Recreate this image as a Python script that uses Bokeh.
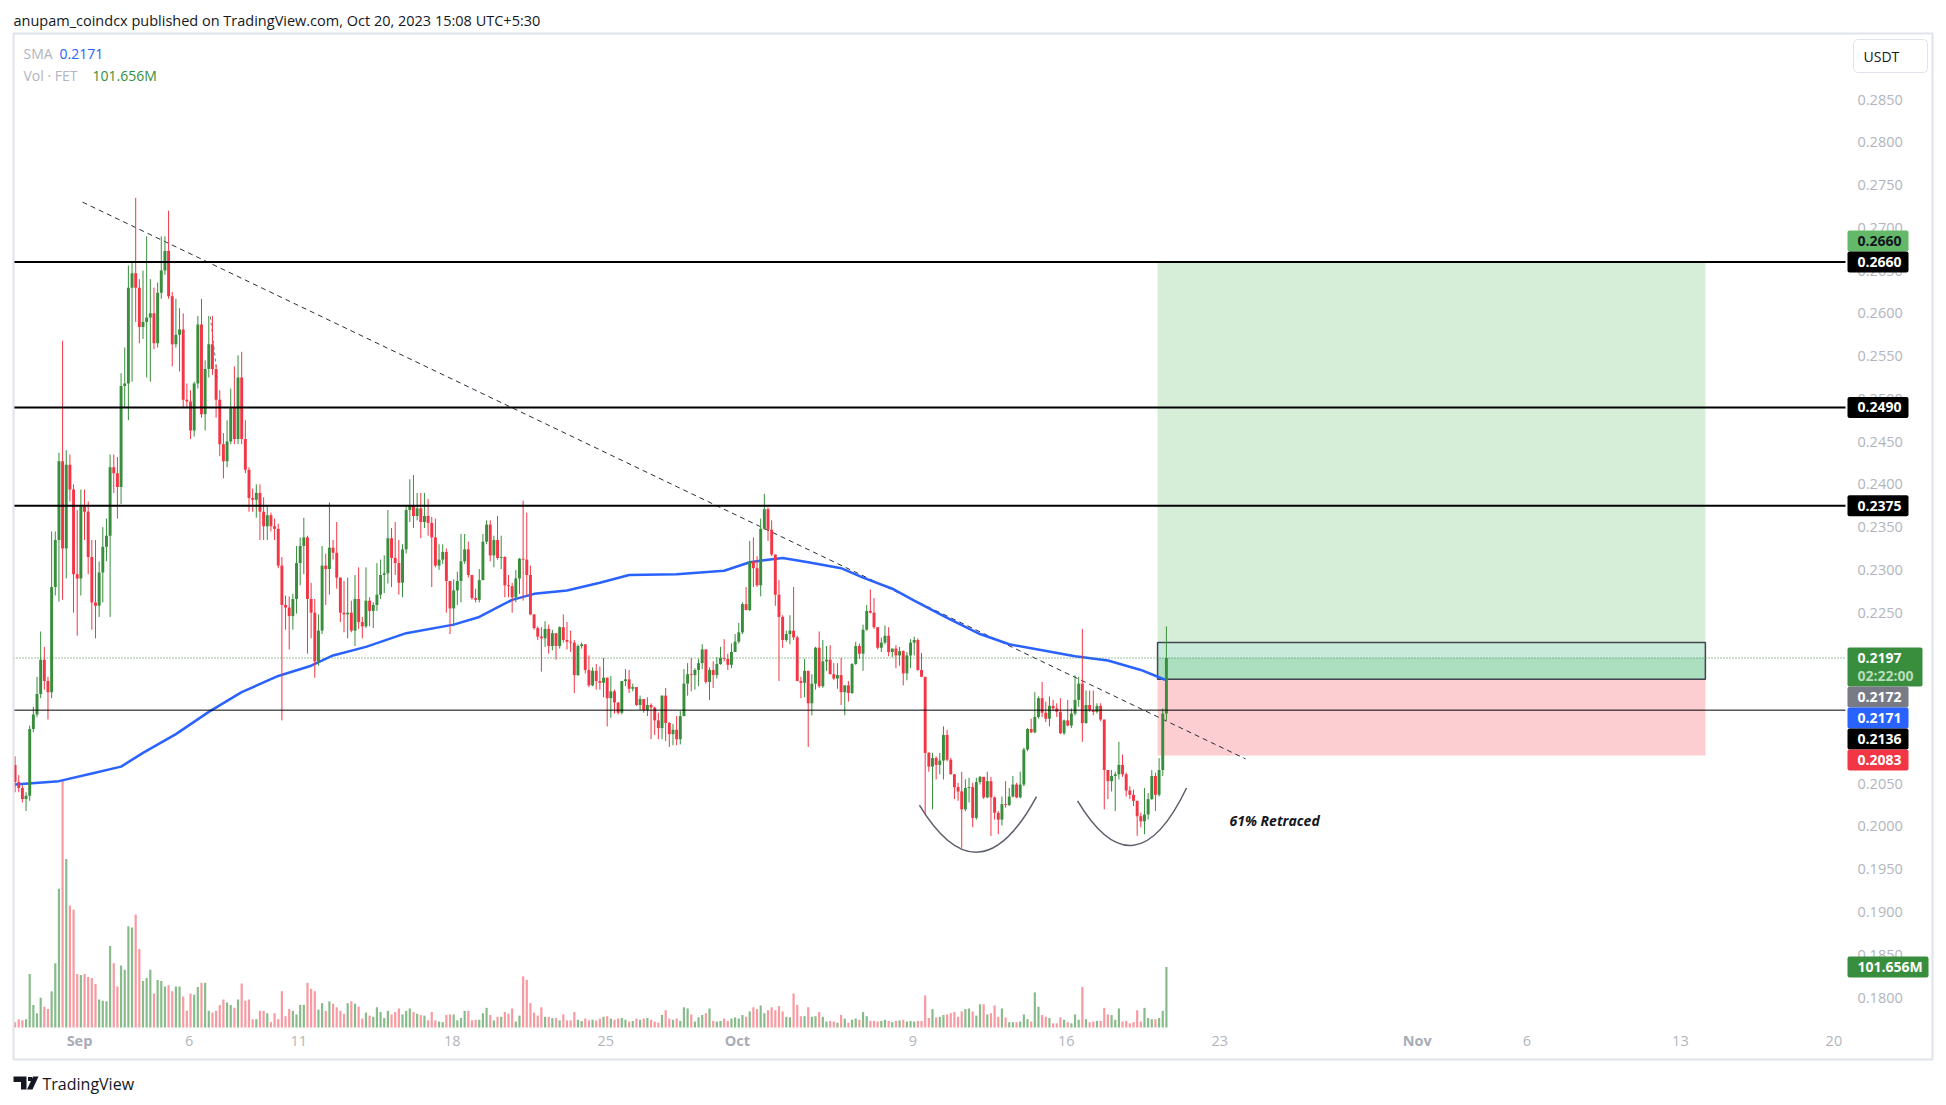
import numpy as np
import pandas as pd
from bokeh.plotting import figure
from bokeh.models import (Range1d, LinearAxis, FixedTicker, PrintfTickFormatter,
                          BoxAnnotation, Label, PolyAnnotation)
from bokeh.embed import file_html
from bokeh.resources import INLINE

# ----------------------------------------------------------------- data
title_text = "anupam_coindcx published on TradingView.com, Oct 20, 2023 15:08 UTC+5:30"
candle_start = "2023-08-29 01:30"      # first 4h candle (UTC+5:30)
candle_freq = "4h"
axis_origin = "2023-09-01"
first_open_x1e4 = 2072

close_x1e4 = [
    2052, 2045, 2032, 2036, 2114, 2131, 2155, 2195, 2170, 2157,
    2280, 2335, 2427, 2325, 2423, 2394, 2295, 2290, 2374, 2368,
    2315, 2262, 2258, 2297, 2327, 2340, 2420, 2413, 2397, 2515,
    2518, 2630, 2647, 2630, 2584, 2590, 2595, 2600, 2565, 2624,
    2650, 2673, 2620, 2564, 2575, 2581, 2499, 2497, 2463, 2518,
    2587, 2482, 2535, 2564, 2535, 2499, 2447, 2427, 2450, 2489,
    2453, 2525, 2453, 2417, 2384, 2382, 2390, 2368, 2351, 2364,
    2351, 2348, 2305, 2259, 2256, 2246, 2266, 2308, 2328, 2338,
    2266, 2250, 2193, 2229, 2305, 2301, 2326, 2320, 2291, 2250,
    2248, 2250, 2229, 2266, 2239, 2234, 2264, 2252, 2259, 2271,
    2294, 2296, 2337, 2314, 2308, 2285, 2324, 2370, 2375, 2363,
    2372, 2356, 2363, 2355, 2338, 2305, 2312, 2321, 2287, 2255,
    2276, 2287, 2310, 2324, 2294, 2267, 2265, 2288, 2333, 2353,
    2317, 2335, 2314, 2315, 2282, 2281, 2268, 2290, 2313, 2312,
    2294, 2248, 2232, 2222, 2220, 2231, 2211, 2226, 2211, 2233,
    2218, 2216, 2215, 2177, 2211, 2213, 2183, 2165, 2182, 2170,
    2168, 2174, 2150, 2158, 2145, 2133, 2170, 2172, 2161, 2163,
    2142, 2149, 2136, 2142, 2139, 2124, 2115, 2153, 2121, 2108,
    2113, 2102, 2129, 2167, 2178, 2177, 2183, 2191, 2207, 2169,
    2183, 2177, 2190, 2197, 2196, 2189, 2204, 2216, 2227, 2260,
    2253, 2310, 2302, 2282, 2348, 2371, 2347, 2318, 2271, 2245,
    2218, 2225, 2229, 2221, 2170, 2168, 2182, 2144, 2167, 2209,
    2164, 2193, 2195, 2178, 2173, 2177, 2157, 2165, 2156, 2190,
    2211, 2202, 2230, 2252, 2250, 2233, 2209, 2215, 2223, 2204,
    2208, 2200, 2205, 2179, 2200, 2215, 2218, 2183, 2175, 2086,
    2070, 2080, 2072, 2077, 2107, 2078, 2061, 2046, 2041, 2020,
    2045, 2046, 2010, 2052, 2058, 2034, 2053, 2034, 2016, 2008,
    2026, 2025, 2035, 2049, 2034, 2049, 2090, 2114, 2110, 2128,
    2150, 2133, 2126, 2141, 2138, 2134, 2109, 2124, 2118, 2132,
    2148, 2167, 2121, 2142, 2136, 2134, 2141, 2125, 2066, 2053,
    2059, 2061, 2072, 2061, 2042, 2037, 2030, 2012, 2006, 2014,
    2032, 2059, 2037, 2066, 2132, 2197]

high_x1e4 = [
    2082, 2060, 2048, 2040, 2118, 2140, 2175, 2228, 2210, 2175,
    2345, 2345, 2437, 2568, 2440, 2435, 2400, 2370, 2394, 2394,
    2380, 2335, 2335, 2310, 2350, 2360, 2435, 2435, 2432, 2530,
    2560, 2656, 2660, 2735, 2640, 2650, 2690, 2640, 2630, 2636,
    2690, 2690, 2720, 2625, 2617, 2606, 2600, 2518, 2510, 2520,
    2597, 2617, 2545, 2597, 2597, 2540, 2510, 2460, 2475, 2512,
    2538, 2551, 2555, 2475, 2420, 2395, 2400, 2400, 2385, 2374,
    2367, 2360, 2354, 2315, 2270, 2269, 2272, 2328, 2338, 2361,
    2340, 2285, 2266, 2248, 2328, 2319, 2379, 2335, 2356, 2291,
    2287, 2291, 2264, 2294, 2303, 2245, 2303, 2268, 2262, 2308,
    2312, 2317, 2370, 2349, 2356, 2335, 2330, 2376, 2406, 2411,
    2390, 2390, 2390, 2383, 2362, 2360, 2330, 2330, 2325, 2287,
    2289, 2298, 2342, 2342, 2333, 2294, 2278, 2301, 2342, 2358,
    2358, 2340, 2363, 2340, 2316, 2294, 2285, 2300, 2314, 2381,
    2367, 2305, 2248, 2234, 2233, 2240, 2236, 2230, 2226, 2234,
    2248, 2239, 2229, 2218, 2213, 2215, 2213, 2200, 2186, 2190,
    2187, 2197, 2174, 2176, 2160, 2145, 2170, 2184, 2183, 2167,
    2163, 2153, 2149, 2151, 2144, 2140, 2133, 2153, 2162, 2122,
    2120, 2129, 2135, 2184, 2191, 2197, 2185, 2196, 2213, 2207,
    2186, 2193, 2198, 2210, 2219, 2202, 2214, 2225, 2238, 2262,
    2280, 2334, 2338, 2316, 2360, 2389, 2373, 2358, 2318, 2288,
    2247, 2229, 2247, 2280, 2223, 2175, 2196, 2182, 2178, 2210,
    2228, 2218, 2211, 2212, 2191, 2191, 2197, 2165, 2170, 2191,
    2216, 2214, 2236, 2259, 2277, 2267, 2233, 2221, 2235, 2233,
    2208, 2212, 2210, 2206, 2204, 2219, 2222, 2220, 2203, 2175,
    2087, 2086, 2082, 2086, 2117, 2113, 2080, 2061, 2051, 2064,
    2055, 2057, 2051, 2057, 2059, 2058, 2064, 2058, 2035, 2018,
    2035, 2053, 2045, 2059, 2051, 2064, 2092, 2115, 2126, 2157,
    2152, 2169, 2146, 2152, 2148, 2144, 2150, 2125, 2148, 2138,
    2177, 2175, 2231, 2159, 2159, 2159, 2144, 2144, 2125, 2066,
    2066, 2064, 2099, 2084, 2063, 2047, 2043, 2030, 2016, 2045,
    2039, 2066, 2063, 2080, 2138, 2234]

low_x1e4 = [
    2040, 2040, 2028, 2018, 2030, 2110, 2128, 2150, 2160, 2125,
    2150, 2270, 2263, 2265, 2290, 2380, 2250, 2223, 2270, 2335,
    2295, 2230, 2220, 2245, 2262, 2310, 2245, 2390, 2360, 2377,
    2490, 2475, 2520, 2590, 2565, 2570, 2525, 2520, 2558, 2560,
    2617, 2645, 2617, 2538, 2560, 2532, 2490, 2490, 2453, 2456,
    2512, 2478, 2463, 2525, 2528, 2478, 2433, 2407, 2420, 2447,
    2447, 2447, 2447, 2413, 2368, 2368, 2361, 2335, 2335, 2335,
    2345, 2335, 2302, 2124, 2230, 2207, 2230, 2249, 2282, 2295,
    2202, 2220, 2174, 2188, 2225, 2259, 2271, 2312, 2278, 2239,
    2227, 2220, 2227, 2211, 2231, 2220, 2232, 2234, 2232, 2252,
    2266, 2273, 2284, 2280, 2294, 2271, 2268, 2319, 2356, 2349,
    2358, 2337, 2349, 2340, 2280, 2303, 2300, 2307, 2250, 2225,
    2234, 2259, 2262, 2307, 2291, 2265, 2262, 2262, 2288, 2330,
    2310, 2303, 2312, 2301, 2268, 2268, 2250, 2262, 2272, 2264,
    2270, 2247, 2230, 2218, 2181, 2210, 2202, 2206, 2195, 2208,
    2215, 2207, 2204, 2156, 2176, 2208, 2179, 2163, 2164, 2160,
    2160, 2151, 2117, 2127, 2132, 2131, 2131, 2164, 2156, 2158,
    2141, 2136, 2133, 2129, 2102, 2107, 2102, 2102, 2100, 2093,
    2095, 2095, 2096, 2129, 2153, 2158, 2160, 2164, 2184, 2167,
    2148, 2162, 2173, 2189, 2193, 2183, 2185, 2204, 2214, 2225,
    2253, 2252, 2280, 2280, 2269, 2347, 2334, 2316, 2258, 2170,
    2209, 2216, 2213, 2218, 2170, 2150, 2151, 2093, 2130, 2160,
    2162, 2162, 2182, 2178, 2171, 2161, 2142, 2130, 2146, 2155,
    2189, 2196, 2182, 2229, 2249, 2231, 2207, 2204, 2213, 2199,
    2198, 2185, 2188, 2165, 2171, 2185, 2200, 2182, 2175, 2014,
    2064, 2020, 2055, 2061, 2055, 2076, 2061, 2032, 2030, 1975,
    2018, 2028, 1999, 2008, 2049, 2032, 2033, 1989, 2008, 1991,
    2001, 2022, 2024, 2034, 2033, 2033, 2047, 2088, 2109, 2109,
    2126, 2128, 2122, 2117, 2135, 2128, 2108, 2107, 2117, 2115,
    2130, 2140, 2099, 2120, 2134, 2130, 2132, 2123, 2020, 2032,
    2041, 2018, 2055, 2058, 2035, 2032, 2024, 1989, 1999, 1991,
    2008, 2031, 2018, 2035, 2059, 2124]

volume_m = [
    9, 14, 12, 14, 90, 38, 24, 50, 35, 31,
    61, 108, 233, 415, 283, 205, 198, 90, 88, 90,
    85, 83, 73, 47, 45, 44, 137, 108, 69, 104,
    97, 170, 168, 190, 132, 78, 83, 97, 57, 80,
    78, 69, 71, 61, 69, 69, 52, 28, 57, 55,
    68, 75, 75, 28, 25, 28, 38, 47, 42, 38,
    33, 47, 74, 45, 47, 14, 14, 28, 28, 24,
    9, 24, 14, 61, 19, 31, 28, 22, 38, 38,
    75, 65, 61, 30, 41, 28, 44, 40, 34, 28,
    23, 41, 44, 40, 35, 15, 25, 20, 18, 34,
    26, 16, 28, 22, 26, 32, 22, 28, 32, 26,
    23, 21, 20, 12, 26, 12, 10, 9, 21, 22,
    22, 12, 16, 28, 28, 12, 13, 13, 24, 33,
    21, 12, 18, 18, 26, 23, 32, 10, 20, 86,
    80, 41, 25, 20, 34, 18, 18, 16, 16, 12,
    22, 12, 12, 26, 13, 11, 15, 12, 13, 12,
    15, 18, 19, 15, 13, 15, 16, 13, 10, 11,
    15, 13, 15, 16, 13, 10, 8, 21, 29, 15,
    13, 15, 11, 34, 32, 22, 10, 17, 21, 24,
    32, 11, 10, 11, 15, 11, 15, 17, 15, 21,
    18, 27, 34, 31, 37, 24, 29, 34, 29, 36,
    27, 18, 17, 57, 38, 19, 19, 34, 18, 19,
    26, 18, 10, 11, 10, 8, 21, 15, 8, 13,
    15, 13, 26, 19, 11, 11, 10, 11, 13, 11,
    9, 11, 12, 13, 10, 11, 10, 11, 11, 54,
    16, 31, 17, 18, 21, 22, 24, 26, 18, 27,
    31, 32, 27, 20, 39, 39, 22, 24, 37, 18,
    32, 17, 9, 9, 9, 10, 22, 14, 10, 59,
    35, 21, 18, 16, 7, 7, 17, 13, 9, 7,
    22, 13, 68, 14, 9, 10, 11, 11, 33, 22,
    21, 13, 32, 10, 11, 7, 9, 29, 10, 33,
    16, 14, 14, 16, 28, 101.656]

sma_index = [0, 12, 21, 29, 35, 44, 53, 62, 72, 81, 87, 96, 107, 120, 127, 136,
             142, 151, 160, 168, 181, 194, 201, 210, 217, 226, 232, 240, 246,
             255, 264, 272, 281, 290, 299, 308, 315]
sma_x1e4 = [2049, 2053, 2062, 2070, 2086, 2108, 2134, 2157, 2176, 2188, 2200,
            2210, 2226, 2236, 2245, 2265, 2272, 2276, 2285, 2294, 2295, 2299,
            2309, 2314, 2309, 2302, 2291, 2278, 2264, 2244, 2225, 2213, 2206,
            2199, 2194, 2183, 2171]

tick_dates = ["2023-09-01", "2023-09-06", "2023-09-11", "2023-09-18", "2023-09-25",
              "2023-10-01", "2023-10-09", "2023-10-16", "2023-10-23", "2023-11-01",
              "2023-11-06", "2023-11-13", "2023-11-20"]
tick_labels = ["Sep", "6", "11", "18", "25", "Oct", "9", "16", "23", "Nov", "6", "13", "20"]
price_ticks = [0.1800, 0.1850, 0.1900, 0.1950, 0.2000, 0.2050, 0.2100, 0.2150,
               0.2200, 0.2250, 0.2300, 0.2350, 0.2400, 0.2450, 0.2500, 0.2550,
               0.2600, 0.2650, 0.2700, 0.2750, 0.2800, 0.2850]

resistance_levels = [0.2660, 0.2490, 0.2375]
support_level = 0.2136
last_price = 0.2197
countdown = "02:22:00"
sma_last = 0.2171
volume_last_text = "101.656M"
symbol_text = "Vol · FET"
currency_text = "USDT"
entry_price, target_price, stop_price = 0.2172, 0.2660, 0.2083
zone_top_price = 0.2215
position_days = [49.16, 74.14]
trend_days, trend_prices = [0.14, 53.17], [0.2730, 0.2079]
trend2_days, trend2_prices = [5.97, 6.29], [0.2596, 0.2525]
arc_start_days, arc_start_prices = [38.30, 45.51], [0.2025, 0.2030]
arc_mid_days, arc_mid_prices = [40.99, 48.06], [0.1970, 0.1978]
arc_end_days, arc_end_prices = [43.64, 50.48], [0.2035, 0.2045]
note_text, note_day, note_price = "61% Retraced", 52.44, 0.2007

# ----------------------------------------------------------------- layout (page px)
W, H = 1946, 1105
CL, CT, CR, CB = 13, 33, 1845, 1027          # TradingView pane on page
PX_PER_DAY, X0_PX = 21.93, 79.0               # Sep 1 at x=79
PX_PER_PRICE, Y18_PX = 8552.0, 997.0          # 0.1800 at y=997
VOL_PX = 1.68                                 # M per px
FONT = "Open Sans"
UP, DOWN = "#388e3c", "#f23645"
AXIS_TXT = "#b2b5be"
DARK = "#131722"


def day_at(px):
    return (px - X0_PX) / PX_PER_DAY


def price_at(py):
    return 0.18 + (Y18_PX - py) / PX_PER_PRICE


def price_px(v):
    return Y18_PX - (v - 0.18) * PX_PER_PRICE


# ----------------------------------------------------------------- derived arrays
n = len(close_x1e4)
times = pd.date_range(candle_start, periods=n, freq=candle_freq)
origin = pd.Timestamp(axis_origin)
xd = np.asarray((times - origin) / pd.Timedelta(days=1), dtype=float)
close = np.array(close_x1e4) / 1e4
open_ = np.concatenate([[first_open_x1e4 / 1e4], close[:-1]])
high = np.maximum.reduce([np.array(high_x1e4) / 1e4, open_, close])
low = np.minimum.reduce([np.array(low_x1e4) / 1e4, open_, close])
up = close >= open_
col = np.where(up, UP, DOWN)
body_top = np.maximum(open_, close)
body_bot = np.minimum(open_, close)
body_bot = np.where(body_top - body_bot < 0.0001, body_top - 0.0001, body_bot)
tick_x = [int(round((pd.Timestamp(d) - origin) / pd.Timedelta(days=1))) for d in tick_dates]
step = 1 / 6

# the frame spans the whole canvas; axes draw their labels inward
p = figure(width=W, height=H, output_backend="svg", toolbar_location=None,
           x_range=Range1d(day_at(0), day_at(W)), y_range=Range1d(price_at(H), price_at(0)),
           x_axis_location=None, y_axis_location=None,
           min_border_left=0, min_border_top=0, min_border_right=0, min_border_bottom=0,
           background_fill_color="white", border_fill_color="white")
p.outline_line_color = None
p.grid.visible = False
p.extra_y_ranges = {"vol": Range1d(-(H - CB) * VOL_PX, CB * VOL_PX)}

day_ticks = [t for t, l in zip(tick_x, tick_labels) if not l.isalpha()]
month_ticks = [t for t, l in zip(tick_x, tick_labels) if l.isalpha()]
xaxis = LinearAxis(ticker=FixedTicker(ticks=day_ticks),
                   major_label_overrides={t: l for t, l in zip(tick_x, tick_labels) if not l.isalpha()})
xaxis_m = LinearAxis(ticker=FixedTicker(ticks=month_ticks),
                     major_label_overrides={t: l for t, l in zip(tick_x, tick_labels) if l.isalpha()})
yaxis = LinearAxis(ticker=FixedTicker(ticks=price_ticks),
                   formatter=PrintfTickFormatter(format="%.4f"))
for ax in (xaxis, xaxis_m, yaxis):
    ax.axis_line_color = None
    ax.major_tick_line_color = None
    ax.minor_tick_line_color = None
    ax.major_tick_out = 0
    ax.major_tick_in = 0
    ax.major_label_text_color = AXIS_TXT
    ax.major_label_text_font = FONT
    ax.major_label_text_font_size = "14.5px"
xaxis_m.major_label_text_font_style = "bold"
xaxis_m.major_label_text_color = "#a8acb6"
xaxis.major_label_standoff = 1035 - H
xaxis_m.major_label_standoff = 1030 - H
yaxis.major_label_standoff = 1857 - W
p.add_layout(xaxis, "below")
p.add_layout(xaxis_m, "below")
p.add_layout(yaxis, "right")

x_left, x_right = day_at(CL), day_at(CR)

# volume
p.vbar(x=xd, top=volume_m, bottom=0, width=0.6 * step, y_range_name="vol",
       fill_color=col, line_color=None, fill_alpha=np.where(up, 0.6, 0.5))

# long position tool
pl, pr = position_days
p.quad(left=pl, right=pr, bottom=entry_price, top=target_price, fill_color="#d6eed8", line_color=None)
p.quad(left=pl, right=pr, bottom=stop_price, top=entry_price, fill_color="#fccdd1", line_color=None)
p.quad(left=pl, right=pr, bottom=entry_price, top=zone_top_price, fill_color="#c8eadb", line_color=None)
p.quad(left=pl, right=pr, bottom=entry_price, top=last_price, fill_color="#acdfc0", line_color=None)
p.segment(x0=pl, y0=entry_price, x1=pr, y1=entry_price, line_color="#787b86", line_width=1)
p.quad(left=pl, right=pr, bottom=entry_price, top=zone_top_price, fill_color=None,
       line_color="#434651", line_width=1.5)

# drawings
p.line(trend_days, trend_prices, line_color="#2a2e39", line_width=1, line_dash="5 4")
p.line(trend2_days, trend2_prices, line_color="#787b86", line_width=1, line_dash="3 3")
sd, sp = np.array(arc_start_days), np.array(arc_start_prices)
md, mp = np.array(arc_mid_days), np.array(arc_mid_prices)
ed, ep = np.array(arc_end_days), np.array(arc_end_prices)
p.quadratic(x0=sd, y0=sp, x1=ed, y1=ep, cx=2 * md - (sd + ed) / 2, cy=2 * mp - (sp + ep) / 2,
            line_color="#5d606b", line_width=1.5)

# SMA
p.line([xd[i] for i in sma_index], np.array(sma_x1e4) / 1e4, line_color="#2962ff", line_width=2.5)

# candles
p.segment(x0=xd, y0=low, x1=xd, y1=high, line_color=col, line_width=1)
p.vbar(x=xd, top=body_top, bottom=body_bot, width=0.8 * step, fill_color=col, line_color=None)

# horizontal levels (across the pane only)
p.segment(x0=x_left, y0=resistance_levels, x1=x_right, y1=resistance_levels,
          line_color="black", line_width=2)
p.segment(x0=x_left, y0=support_level, x1=x_right, y1=support_level, line_color="black", line_width=1)
p.segment(x0=x_left, y0=last_price, x1=x_right, y1=last_price, line_color=UP, line_width=1,
          line_dash="1 2")

p.add_layout(Label(x=note_day, y=note_price, text=note_text, text_font=FONT,
                   text_font_size="14px", text_font_style="bold italic", text_color=DARK,
                   text_baseline="middle", text_align="left"))


# ----------------------------------------------------------------- page-positioned overlays
def sy(py):
    return H - py


def slabel(text, px, py, color, size="14px", style="normal"):
    p.add_layout(Label(x=px, y=sy(py), x_units="screen", y_units="screen", text=text,
                       text_color=color, text_font=FONT, text_font_size=size,
                       text_font_style=style, text_align="left", text_baseline="middle"))


def sbox(l, t, r, b, fill, line=None, lw=1, radius=0):
    kw = dict(left=l, right=r, top=sy(t), bottom=sy(b),
              left_units="screen", right_units="screen", top_units="screen", bottom_units="screen",
              fill_color=fill if fill else "white", fill_alpha=1 if fill else 0,
              line_color=line if line else "white", line_alpha=1 if line else 0, line_width=lw)
    if radius:
        kw["border_radius"] = radius
    p.add_layout(BoxAnnotation(**kw))


def spoly(xs, ys, fill):
    p.add_layout(PolyAnnotation(xs=xs, ys=[sy(v) for v in ys], xs_units="screen", ys_units="screen",
                                fill_color=fill, fill_alpha=1, line_color=None))


TAG_L, TAG_R, TAG_H = 1847, 1908, 21


def tag(lines, center, bg, fg, right=TAG_R):
    top = center - TAG_H / 2
    h = TAG_H + 18 * (len(lines) - 1)
    sbox(TAG_L, top, right, top + h, bg, radius=2)
    for k, t in enumerate(lines):
        slabel(t, 1857, center + 18 * k, fg if k == 0 else "#b9dcbb", style="bold")


# container border + header texts
sbox(CL, CT, 1932, 1059, None, "#e0e3eb", 2)
slabel(title_text, CL, 20, DARK, "14.5px")
slabel("SMA", 23, 53, AXIS_TXT)
slabel(f"{sma_last:.4f}", 59, 53, "#2962ff")
slabel(symbol_text, 23, 75, AXIS_TXT)
slabel(volume_last_text, 92, 75, UP)

# currency box
sbox(1853, 39, 1927, 72, "white", "#e0e3eb", 1, 4)
slabel(currency_text, 1863, 55.5, DARK)

# price tags
c_lvl = price_px(resistance_levels[0])
tag([f"{target_price:.4f}"], c_lvl - TAG_H, "#63b968", DARK)
for lv in resistance_levels:
    tag([f"{lv:.4f}"], price_px(lv), "black", "white")
cluster = [([f"{last_price:.4f}", countdown], last_price, UP, "white", 1922),
           ([f"{entry_price:.4f}"], entry_price, "#787b86", "white", TAG_R),
           ([f"{sma_last:.4f}"], sma_last, "#2962ff", "white", TAG_R),
           ([f"{support_level:.4f}"], support_level, "black", "white", TAG_R),
           ([f"{stop_price:.4f}"], stop_price, DOWN, "white", TAG_R)]
prev_bottom = -1e9
for lines, v, bg, fg, r in cluster:
    c = max(price_px(v), prev_bottom + TAG_H / 2)
    tag(lines, c, bg, fg, r)
    prev_bottom = c - TAG_H / 2 + TAG_H + 18 * (len(lines) - 1)
vol_c = CB - volume_m[-1] / VOL_PX
tag([volume_last_text], vol_c, UP, "white", 1928)

# footer logo + text
spoly([13, 26, 26, 20.5, 20.5, 13], [1076, 1076, 1089, 1089, 1081.5, 1081.5], DARK)
spoly([27.5, 31.5, 31.5, 27.5], [1076.5, 1076.5, 1080.5, 1080.5], DARK)
spoly([32.5, 38, 32, 26.5], [1076, 1076, 1089, 1089], DARK)
slabel("TradingView", 42, 1083, DARK, "16px")

open("out.html", "w").write(file_html(p, INLINE))
